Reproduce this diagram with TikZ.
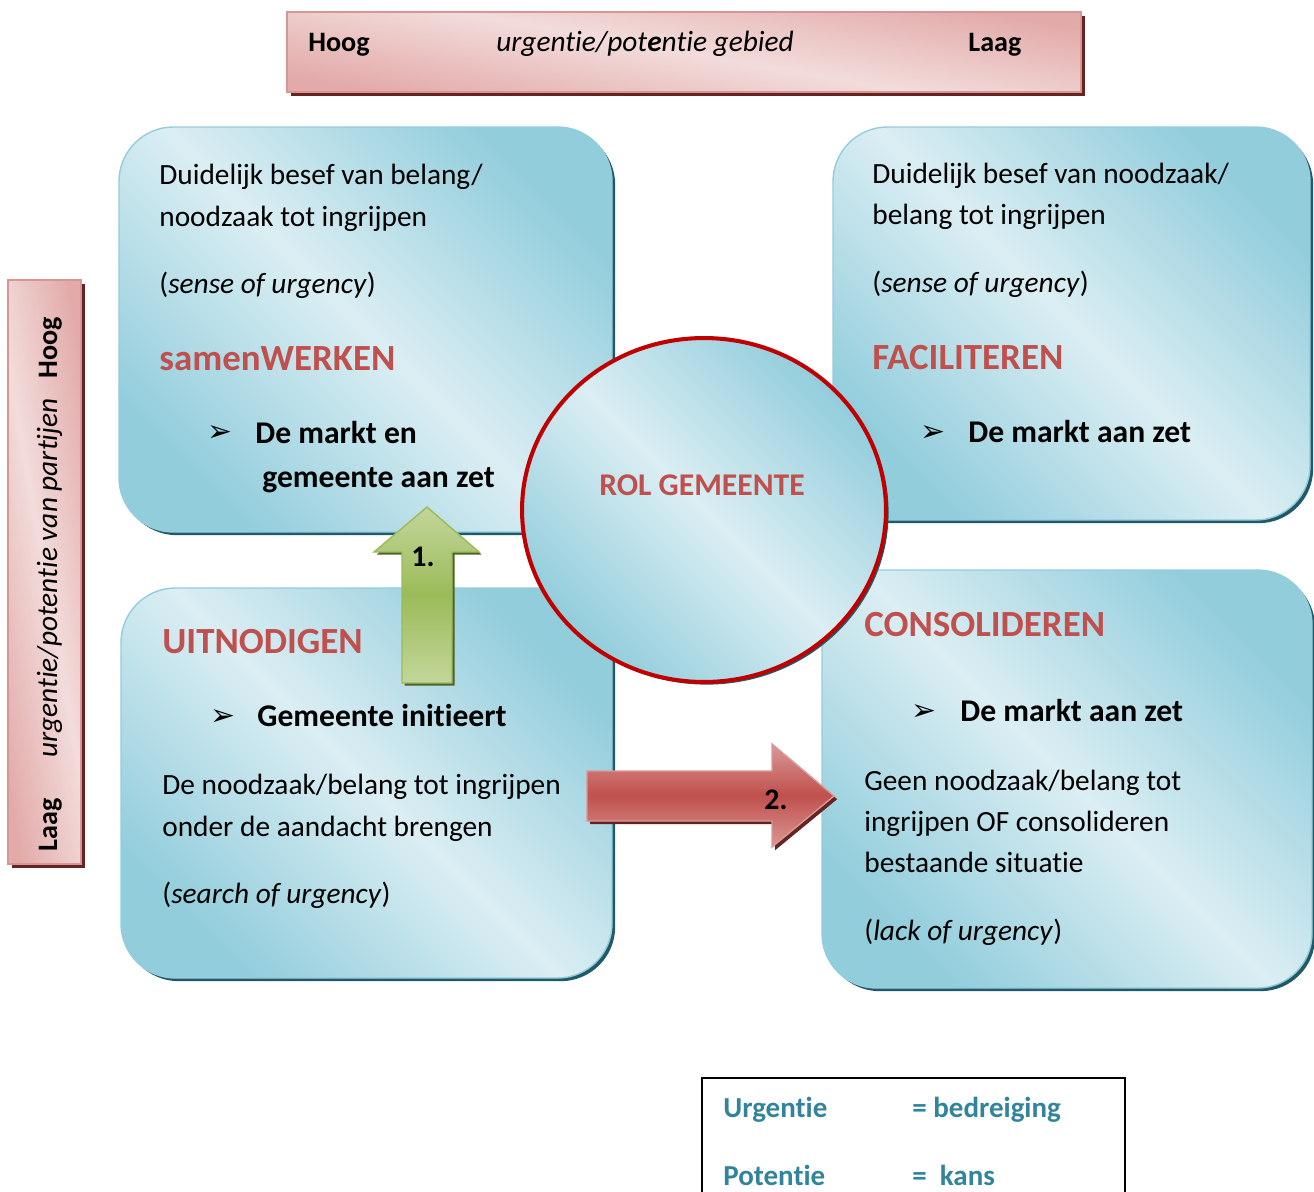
\documentclass[tikz,border=0pt]{standalone}
\usepackage{fontspec}
\setmainfont{Carlito}[Ligatures=NoCommon]
\newfontfamily\dingfont{DejaVu Sans}
\usetikzlibrary{shadows,shapes.geometric}

\definecolor{boxdark}{HTML}{92CDDC}
\definecolor{boxlight}{HTML}{DBEEF3}
\definecolor{boxedge}{HTML}{93CDDD}
\definecolor{boxshade}{HTML}{215968}
\definecolor{rolred}{HTML}{C0504D}
\definecolor{ringred}{HTML}{C00000}
\definecolor{barpink}{HTML}{D99594}
\definecolor{barmid}{HTML}{E2AAA9}
\definecolor{barlight}{HTML}{F2DCDB}
\definecolor{barshade}{HTML}{632523}
\definecolor{pijlgroen}{HTML}{9BBB59}
\definecolor{pijllicht}{HTML}{C3D69B}
\definecolor{pijlschaduw}{HTML}{4F6228}
\definecolor{pijlroze}{HTML}{DA9896}
\definecolor{legendablauw}{HTML}{31849B}

\newcommand{\pijlpunt}{{\dingfont\fontsize{17}{17}\selectfont ➢}}

\tikzset{
  vak/.style={rounded corners=31pt, draw=boxedge, line width=0.8pt,
    left color=boxdark, right color=boxdark, middle color=boxlight, shading angle=135,
    general shadow={fill=boxshade, shadow xshift=1.8pt, shadow yshift=-1.8pt}},
  balk/.style={draw=barpink, line width=0.8pt,
    general shadow={fill=barshade, shadow xshift=2pt, shadow yshift=-2pt}},
  tekst/.style={anchor=base west, inner sep=0pt, font=\fontsize{16.7}{20}\selectfont},
  kop/.style={anchor=base west, inner sep=0pt, text=rolred, font=\fontsize{21}{25}\selectfont\bfseries},
  actie/.style={anchor=base west, inner sep=0pt, font=\fontsize{18}{22}\selectfont\bfseries},
  balktekst/.style={inner sep=0pt, font=\fontsize{16}{19}\selectfont\bfseries},
  balkcursief/.style={inner sep=0pt, font=\fontsize{16.7}{20}\selectfont\itshape},
  legenda/.style={anchor=base west, inner sep=0pt, text=legendablauw, font=\fontsize{16.5}{20}\selectfont\bfseries}
}

\begin{document}
\begin{tikzpicture}[x=0.02cm, y=-0.02cm]
  \useasboundingbox (0,0) rectangle (1314,1191);

  % balken
  \path[balk, top color=barmid, bottom color=barmid, middle color=barlight, shading angle=170]
    (287,12) rectangle (1081,92);
  \node[balktekst, anchor=base west] (hoog1) at (308,51) {Hoog};
  \node[balkcursief, anchor=base] (gebied) at (645,51) {urgentie/pot\textbf{e}ntie gebied};
  \node[balktekst, anchor=base west] (laag1) at (968,51) {Laag};

  \path[balk, left color=barmid, right color=barmid, middle color=barlight, shading angle=100]
    (8,280) rectangle (81,864);
  \node[balktekst, anchor=base, rotate=90] (hoog2) at (57,348) {Hoog};
  \node[balkcursief, anchor=base, rotate=90] (partijen) at (57,578) {urgentie/potentie van partijen};
  \node[balktekst, anchor=base, rotate=90] (laag2) at (57,825) {Laag};

  % vakken
  \path[vak] (119,127) rectangle (612,532);
  \path[vak] (833,127) rectangle (1310,520);
  \path[vak] (121,588) rectangle (612,978);
  \path[vak] (822,570) rectangle (1312,988);

  % rol gemeente
  \node[ellipse, minimum width=7.28cm, minimum height=6.88cm, draw=ringred, line width=2.3pt,
    left color=boxdark, right color=boxdark, middle color=boxlight, shading angle=135,
    general shadow={fill=boxshade, shadow xshift=1.5pt, shadow yshift=-1.5pt}] (rol) at (704,510) {};
  \node[anchor=base, inner sep=0pt, text=rolred, font=\fontsize{18}{22}\selectfont\bfseries] (roltekst) at (702,495) {ROL GEMEENTE};

  % pijlen
  \path[draw=pijlgroen, line width=0.8pt, top color=pijllicht, bottom color=pijllicht, middle color=pijlgroen,
    general shadow={fill=pijlschaduw, shadow xshift=1.5pt, shadow yshift=-1.5pt}]
    (427,507) -- (479,552) -- (452,552) -- (452,683) -- (402,683) -- (402,552) -- (374,552) -- cycle;
  \node[anchor=base, inner sep=0pt, font=\fontsize{17}{20}\selectfont\bfseries] (een) at (423,566) {1.};

  \path[draw=pijlroze, line width=0.8pt, top color=pijlroze, bottom color=pijlroze, middle color=rolred,
    general shadow={fill=barshade, shadow xshift=1.8pt, shadow yshift=-1.8pt}]
    (587,771) -- (772,771) -- (772,744) -- (834,796) -- (772,847) -- (772,821) -- (587,821) -- cycle;
  \node[anchor=base, inner sep=0pt, font=\fontsize{17}{20}\selectfont\bfseries] (twee) at (776,809) {2.};

  % samenwerken
  \foreach \y/\val in {
      184/{Duidelijk besef van belang/},
      226/{noodzaak tot ingrijpen},
      293/{(\textit{sense of urgency})}
      } {
    \node[tekst] (sw-\y) at (159,\y) {\val};
  }
  \node[kop] (samenwerken) at (159,370) {samenWERKEN};
  \node[anchor=base west, inner sep=0pt] (sw-pijl) at (207,441) {\pijlpunt};
  \node[actie] (sw-actie1) at (255,443) {De markt en};
  \node[actie] (sw-actie2) at (262,487) {gemeente aan zet};

  % faciliteren
  \foreach \y/\val in {
      183/{Duidelijk besef van noodzaak/},
      224/{belang tot ingrijpen},
      292/{(\textit{sense of urgency})}
      } {
    \node[tekst] (fa-\y) at (872,\y) {\val};
  }
  \node[kop] (faciliteren) at (872,369) {FACILITEREN};
  \node[anchor=base west, inner sep=0pt] (fa-pijl) at (920,441) {\pijlpunt};
  \node[actie] (fa-actie) at (968,442) {De markt aan zet};

  % uitnodigen
  \node[kop] (uitnodigen) at (162,653) {UITNODIGEN};
  \node[anchor=base west, inner sep=0pt] (ui-pijl) at (210,725) {\pijlpunt};
  \node[actie] (ui-actie) at (257,726) {Gemeente initieert};
  \foreach \y/\val in {
      794/{De noodzaak/belang tot ingrijpen},
      836/{onder de aandacht brengen},
      903/{(\textit{search of urgency})}
      } {
    \node[tekst] (ui-\y) at (162,\y) {\val};
  }

  % consolideren
  \node[kop] (consolideren) at (864,636) {CONSOLIDEREN};
  \node[anchor=base west, inner sep=0pt] (co-pijl) at (911,720) {\pijlpunt};
  \node[actie] (co-actie) at (960,721) {De markt aan zet};
  \foreach \y/\val in {
      790/{Geen noodzaak/belang tot},
      831/{ingrijpen OF consolideren},
      872/{bestaande situatie},
      940/{(\textit{lack of urgency})}
      } {
    \node[tekst] (co-\y) at (864,\y) {\val};
  }

  % legenda
  \draw[line width=1.2pt] (702,1078) rectangle (1125,1240);
  \node[legenda] (urgentie) at (723,1117) {Urgentie};
  \node[legenda] (bedreiging) at (912,1117) {= bedreiging};
  \node[legenda] (potentie) at (723,1185) {Potentie};
  \node[legenda] (kans) at (912,1185) {=~~kans};
\end{tikzpicture}
\end{document}
